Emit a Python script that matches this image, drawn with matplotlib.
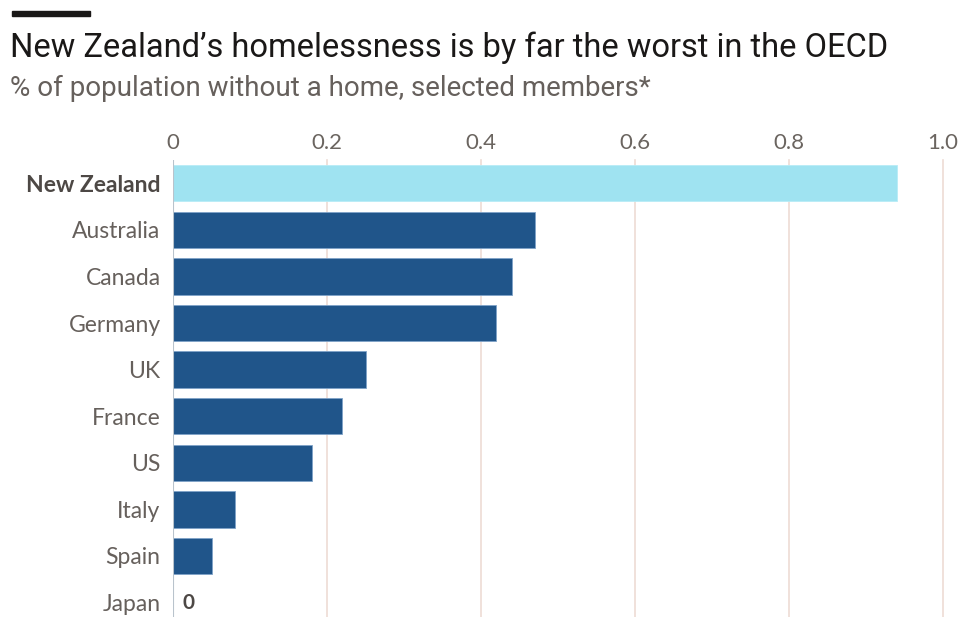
import matplotlib.pyplot as plt

# 数据
countries = ['New Zealand', 'Australia', 'Canada', 'Germany', 'UK',
             'France', 'US', 'Italy', 'Spain', 'Japan']
values = [0.94, 0.47, 0.44, 0.42, 0.25, 0.22, 0.18, 0.08, 0.05, 0.0]
ticks = [0, 0.2, 0.4, 0.6, 0.8, 1.0]
tick_labels = ['0', '0.2', '0.4', '0.6', '0.8', '1.0']

plt.rcParams['font.family'] = ['Roboto', 'DejaVu Sans']
label_font = ['Lato', 'DejaVu Sans']

W, H = 963, 617
fig = plt.figure(figsize=(W / 100, H / 100), dpi=100)
fig.patch.set_facecolor('white')

# 坐标轴位置 (像素换算)
x0, x1 = 173, 943
unit = x1 - x0
xmax = 1.02
top = 160
ax = fig.add_axes([x0 / W, 0, unit * xmax / W, (H - top) / H])

colors = ['#9fe3f1'] + ['#20558a'] * (len(countries) - 1)
edges = ['#b8ecf6'] + ['#7fa3c8'] * (len(countries) - 1)
y = range(len(countries))
ax.barh(y, values, height=0.78, color=colors, edgecolor=edges,
        linewidth=0.6, zorder=3)

ax.set_xlim(0, xmax)
ax.set_ylim(9.31, -0.5)

for t in ticks[1:]:
    ax.axvline(t, color='#eddcd4', lw=1.2, zorder=1, clip_on=False)
ax.axvline(0, color='#b9c3cc', lw=1.5, zorder=4)

ax.xaxis.tick_top()
ax.set_xticks(ticks)
ax.set_xticklabels(tick_labels, fontsize=16, color='#6b6560',
                   fontfamily=label_font)
ax.tick_params(axis='x', length=0, pad=5)

ax.set_yticks(list(y))
ax.set_yticklabels(countries, fontsize=16.5, color='#66605c',
                   fontfamily=label_font)
ax.get_yticklabels()[0].set_fontweight('bold')
ax.get_yticklabels()[0].set_color('#4d4845')
ax.tick_params(axis='y', length=0, pad=9)

for s in ax.spines.values():
    s.set_visible(False)

# Japan 的 0 标签
ax.text(0.012, 9, '0', va='center', ha='left', fontsize=15,
        fontweight='bold', color='#4d4845', fontfamily=label_font)

# 标题区域
fig.add_artist(plt.Rectangle((12 / W, 1 - 16 / H), 78 / W, 5 / H,
                             color='#1a1817', transform=fig.transFigure))
fig.text(10 / W, 1 - 57 / H, 'New Zealand\u2019s homelessness is by far the worst in the OECD',
         fontsize=23.5, color='#1a1817', va='baseline', ha='left')
fig.text(10 / W, 1 - 96 / H, '% of population without a home, selected members*',
         fontsize=20, color='#66605c', va='baseline', ha='left')

fig.savefig('out.png', dpi=100)
